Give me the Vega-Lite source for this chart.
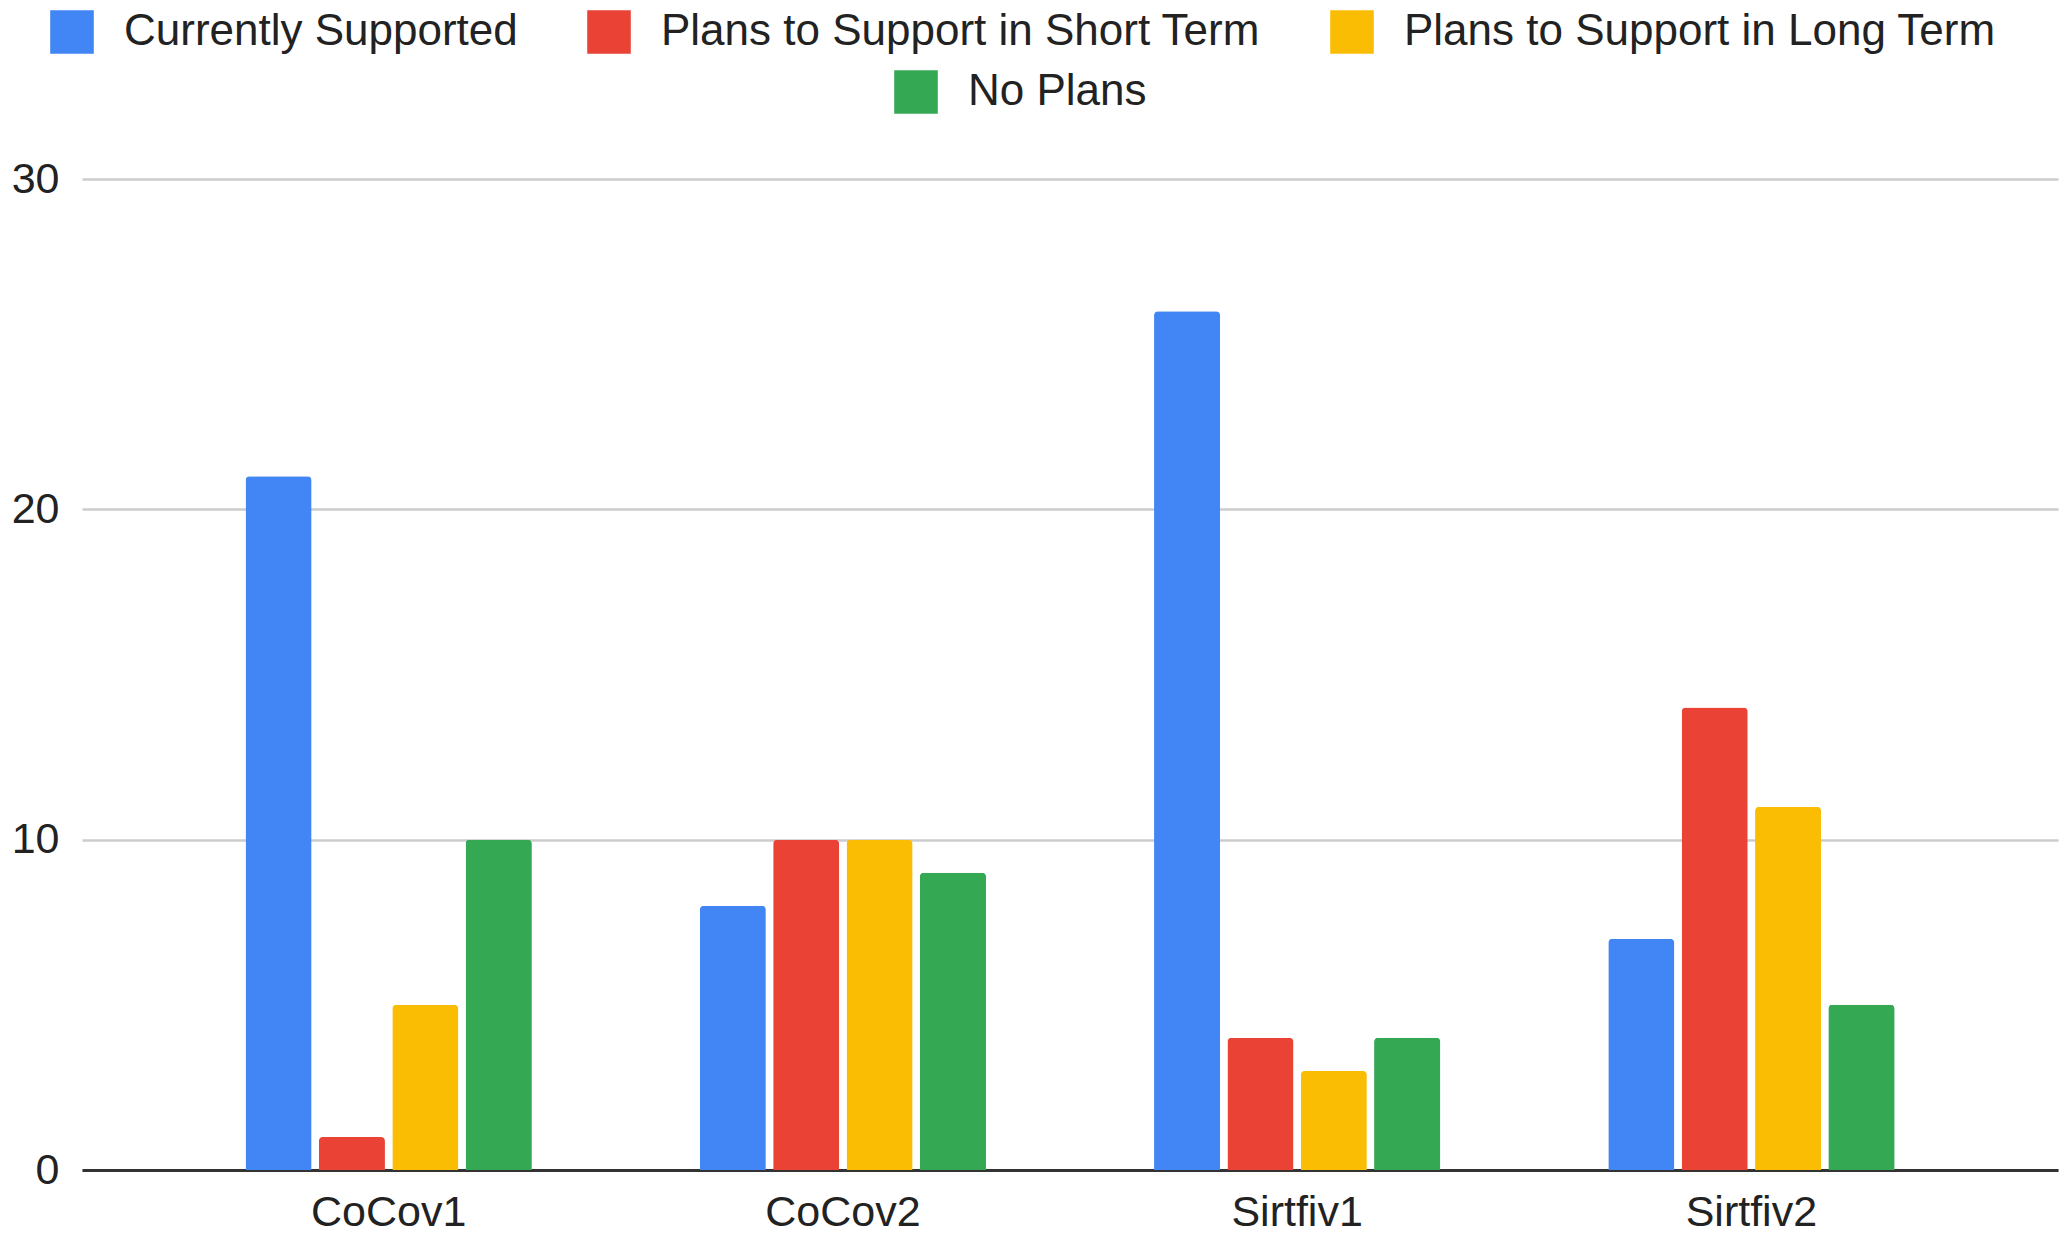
{
  "$schema": "https://vega.github.io/schema/vega-lite/v6.json",
  "width": 1976,
  "height": 991,
  "autosize": {"type": "none"},
  "padding": {"left": 82, "top": 179, "right": 4, "bottom": 65},
  "background": "white",
  "config": {"view": {"stroke": null}, "font": "Liberation Sans"},
  "data": {
    "values": [
      {"standard": "CoCov1", "series": "Currently Supported", "count": 21},
      {"standard": "CoCov1", "series": "Plans to Support in Short Term", "count": 1},
      {"standard": "CoCov1", "series": "Plans to Support in Long Term", "count": 5},
      {"standard": "CoCov1", "series": "No Plans", "count": 10},
      {"standard": "CoCov2", "series": "Currently Supported", "count": 8},
      {"standard": "CoCov2", "series": "Plans to Support in Short Term", "count": 10},
      {"standard": "CoCov2", "series": "Plans to Support in Long Term", "count": 10},
      {"standard": "CoCov2", "series": "No Plans", "count": 9},
      {"standard": "Sirtfiv1", "series": "Currently Supported", "count": 26},
      {"standard": "Sirtfiv1", "series": "Plans to Support in Short Term", "count": 4},
      {"standard": "Sirtfiv1", "series": "Plans to Support in Long Term", "count": 3},
      {"standard": "Sirtfiv1", "series": "No Plans", "count": 4},
      {"standard": "Sirtfiv2", "series": "Currently Supported", "count": 7},
      {"standard": "Sirtfiv2", "series": "Plans to Support in Short Term", "count": 14},
      {"standard": "Sirtfiv2", "series": "Plans to Support in Long Term", "count": 11},
      {"standard": "Sirtfiv2", "series": "No Plans", "count": 5}
    ]
  },
  "encoding": {
    "x": {
      "field": "standard", "type": "nominal", "sort": null,
      "scale": {"paddingInner": 0.37, "paddingOuter": 0.36},
      "axis": {"title": null, "labelAngle": 0, "labelFont": "Liberation Sans", "labelFontSize": 43, "labelColor": "#222222", "labelPadding": 21, "ticks": false, "domainColor": "#333333", "domainWidth": 3, "grid": false}
    },
    "xOffset": {
      "field": "series", "type": "nominal", "sort": null,
      "scale": {"domain": ["Currently Supported", "Plans to Support in Short Term", "Plans to Support in Long Term", "No Plans"], "paddingInner": 0.1, "paddingOuter": 0}
    },
    "y": {
      "field": "count", "type": "quantitative",
      "scale": {"domain": [0, 30], "nice": false},
      "axis": {"title": null, "values": [0, 10, 20, 30], "labelFont": "Liberation Sans", "labelFontSize": 43, "labelColor": "#222222", "labelPadding": 23, "ticks": false, "domain": false, "gridColor": "#cccccc", "gridWidth": 2.5}
    }
  },
  "layer": [
    {
      "mark": {"type": "bar", "cornerRadiusTopLeft": 4, "cornerRadiusTopRight": 4},
      "encoding": {
        "color": {
          "field": "series", "type": "nominal",
          "scale": {"domain": ["Currently Supported", "Plans to Support in Short Term", "Plans to Support in Long Term", "No Plans"], "range": ["#4285F4", "#EA4335", "#FBBC04", "#34A853"]},
          "legend": {"values": ["Currently Supported", "Plans to Support in Short Term", "Plans to Support in Long Term"], "title": null, "orient": "none", "legendX": -32, "legendY": -169, "direction": "horizontal", "padding": 0, "symbolType": "square", "symbolSize": 1900, "symbolStrokeWidth": 0, "symbolOpacity": 1, "labelFont": "Liberation Sans", "labelFontSize": 44, "labelColor": "#222222", "labelOffset": 30, "labelLimit": 1000, "columnPadding": 69}
        }
      }
    },
    {
      "transform": [{"filter": "datum.series === 'No Plans'"}],
      "mark": {"type": "bar", "cornerRadiusTopLeft": 4, "cornerRadiusTopRight": 4},
      "encoding": {
        "fill": {
          "field": "series", "type": "nominal",
          "scale": {"domain": ["No Plans"], "range": ["#34A853"]},
          "legend": {"title": null, "orient": "none", "legendX": 812, "legendY": -109, "direction": "horizontal", "padding": 0, "symbolType": "square", "symbolSize": 1900, "symbolStrokeWidth": 0, "symbolOpacity": 1, "labelFont": "Liberation Sans", "labelFontSize": 44, "labelColor": "#222222", "labelOffset": 30, "labelLimit": 1000}
        }
      }
    }
  ]
}
